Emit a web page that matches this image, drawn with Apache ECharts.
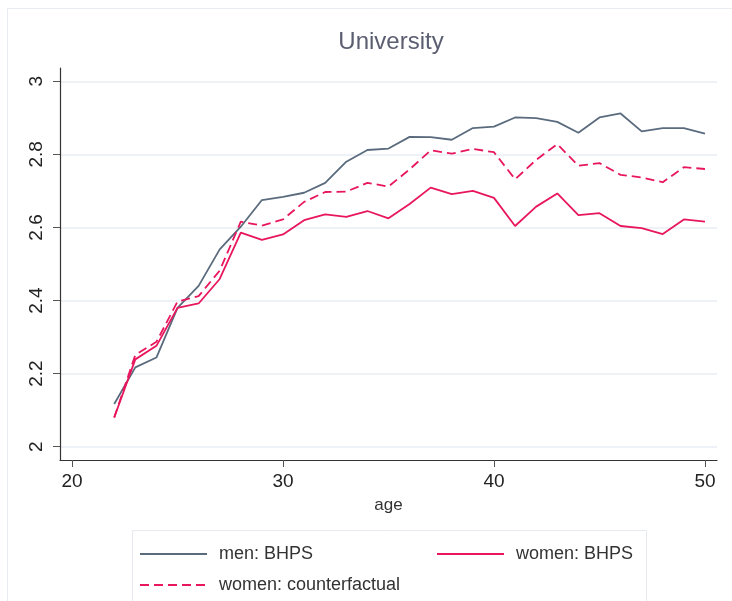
<!DOCTYPE html>
<html>
<head>
<meta charset="utf-8">
<script src="https://cdn.jsdelivr.net/npm/echarts@6/dist/echarts.min.js"></script>
<style>
  html, body { margin: 0; padding: 0; background: #fff; }
  #chart { width: 732px; height: 601px; }
</style>
</head>
<body>
<div id="chart"></div>
<script>
// ages 22..50
const ages = [22, 23, 24, 25, 26, 27, 28, 29, 30, 31, 32, 33, 34, 35, 36,
    37, 38, 39, 40, 41, 42, 43, 44, 45, 46, 47, 48, 49, 50];
const menBHPS = [2.117, 2.217, 2.244, 2.380, 2.440, 2.540, 2.602, 2.675, 2.684, 2.695,
    2.722, 2.780, 2.812, 2.816, 2.848, 2.847, 2.840, 2.872, 2.876, 2.901,
    2.899, 2.889, 2.859, 2.901, 2.912, 2.863, 2.872, 2.872, 2.857];
const womenBHPS = [2.080, 2.239, 2.276, 2.380, 2.392, 2.459, 2.586, 2.566, 2.581, 2.620,
    2.636, 2.629, 2.645, 2.625, 2.664, 2.709, 2.691, 2.700, 2.681, 2.604,
    2.657, 2.693, 2.634, 2.639, 2.604, 2.598, 2.582, 2.622, 2.616];
const womenCounterfactual = [2.080, 2.251, 2.287, 2.397, 2.412, 2.482, 2.616, 2.605, 2.622, 2.670,
    2.697, 2.698, 2.722, 2.712, 2.759, 2.811, 2.802, 2.815, 2.806, 2.732,
    2.785, 2.828, 2.769, 2.776, 2.744, 2.737, 2.724, 2.765, 2.760];
const xTicks = [20, 30, 40, 50];
const yTicks = [2, 2.2, 2.4, 2.6, 2.8, 3];

const FONT = '"Liberation Sans", Arial, sans-serif';
const MEN_COLOR = '#5b6b7e';
const WOMEN_COLOR = '#e8175d';

const pairs = vals => ages.map((a, i) => [a, vals[i]]);

const chart = echarts.init(document.getElementById('chart'), null, { renderer: 'canvas' });

const legendBase = {
    orient: 'horizontal',
    itemWidth: 67,
    itemHeight: 14,
    padding: 0,
    itemGap: 0,
    selectedMode: false,
    itemStyle: { opacity: 0 }, // keep only the line in the key
    textStyle: { fontFamily: FONT, fontSize: 18, color: '#333', padding: [0, 0, 0, 7] }
};

chart.setOption({
    animation: false,
    backgroundColor: '#fff',
    title: {
        text: 'University',
        left: 391,
        top: 30,
        textAlign: 'center',
        padding: 0,
        textStyle: { fontFamily: FONT, fontSize: 24, fontWeight: 'normal', color: '#5a5e70' }
    },
    graphic: [
        { // outer frame
            type: 'rect', silent: true, z: -1,
            shape: { x: 7.5, y: 8.5, width: 760, height: 620 },
            style: { fill: 'none', stroke: '#e8ecf1', lineWidth: 1 }
        },
        { // legend box
            type: 'rect', silent: true, z: -1,
            shape: { x: 132.5, y: 530.5, width: 514, height: 100 },
            style: { fill: 'none', stroke: '#e6eaf0', lineWidth: 1 }
        }
    ],
    legend: [
        Object.assign({}, legendBase, { left: 139, top: 545, data: ['men: BHPS'] }),
        Object.assign({}, legendBase, { left: 436, top: 545, data: ['women: BHPS'] }),
        Object.assign({}, legendBase, { left: 139, top: 576, data: ['women: counterfactual'] })
    ],
    grid: { left: 60, right: 15, top: 68, bottom: 141, containLabel: false },
    xAxis: {
        type: 'value',
        min: 19.43,
        max: 50.57,
        name: 'age',
        nameLocation: 'middle',
        nameGap: 37,
        nameTextStyle: { fontFamily: FONT, fontSize: 17, color: '#333' },
        axisLine: { show: true, onZero: false, lineStyle: { color: '#333', width: 1.2 } },
        axisTick: { show: true, length: 7, customValues: xTicks, lineStyle: { color: '#555' } },
        axisLabel: { customValues: xTicks, margin: 12, fontFamily: FONT, fontSize: 19, color: '#222' },
        splitLine: { show: false }
    },
    yAxis: {
        type: 'value',
        min: 1.9636,
        max: 3.0364,
        axisLine: { show: true, onZero: false, lineStyle: { color: '#333', width: 1.2 } },
        axisTick: { show: true, length: 7, customValues: yTicks, lineStyle: { color: '#555' } },
        axisLabel: {
            customValues: yTicks, rotate: 90, margin: 14,
            fontFamily: FONT, fontSize: 19, color: '#222',
            formatter: v => String(Math.round(v * 10) / 10)
        },
        splitLine: { show: true, lineStyle: { color: '#e8edf2', width: 1.5 } }
    },
    series: [
        {
            name: 'men: BHPS', type: 'line', data: pairs(menBHPS),
            symbol: 'none', color: MEN_COLOR,
            lineStyle: { color: MEN_COLOR, width: 1.8 }
        },
        {
            name: 'women: BHPS', type: 'line', data: pairs(womenBHPS),
            symbol: 'none', color: WOMEN_COLOR,
            lineStyle: { color: WOMEN_COLOR, width: 1.8 }
        },
        {
            name: 'women: counterfactual', type: 'line', data: pairs(womenCounterfactual),
            symbol: 'none', color: WOMEN_COLOR,
            lineStyle: { color: WOMEN_COLOR, width: 1.8, type: [9, 5] }
        }
    ]
});
</script>
</body>
</html>
